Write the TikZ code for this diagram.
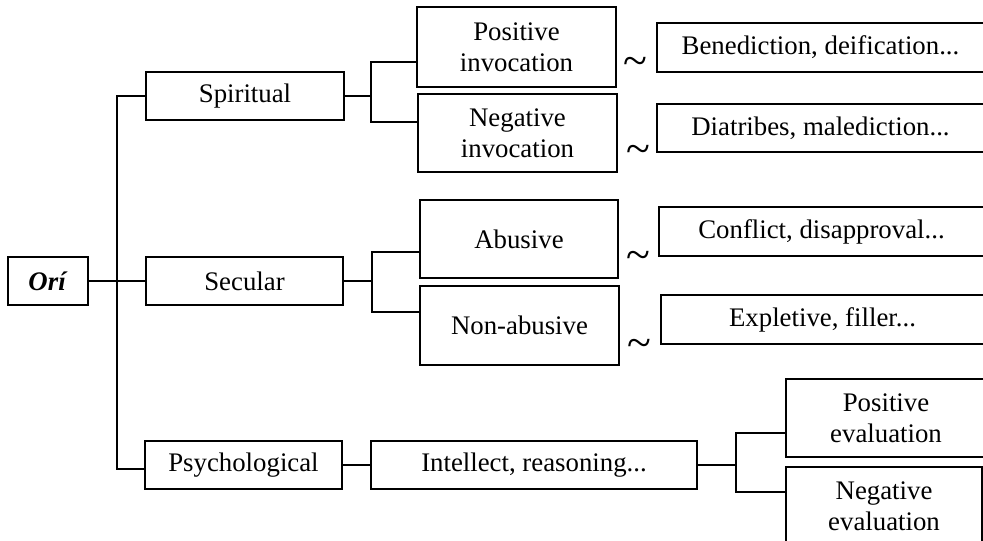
\documentclass[tikz,border=0pt]{standalone}
\usepackage{fontspec}
\setmainfont{Liberation Serif}
\begin{document}
\begin{tikzpicture}[x=0.5pt,y=-0.5pt,
  box/.style={draw, line width=1pt, inner sep=0pt, align=center,
    font=\fontsize{13.4}{15.5}\selectfont},
  conn/.style={line width=1pt},
  tilde/.style={inner sep=0pt, font=\fontsize{22}{22}\selectfont}]
\useasboundingbox (0,0) rectangle (983,540);
\clip (0,0) rectangle (983,540);
% level 0
\node[box, minimum width=40pt, minimum height=24pt] (ori) at (48,281) {\textbf{\textit{Orí}}};
% level 1
\node[box, minimum width=99pt, minimum height=24pt] (spi) at (245,96) {Spiritual};
\node[box, minimum width=98.5pt, minimum height=24pt] (sec) at (244.5,281) {Secular};
\node[box, minimum width=98.5pt, minimum height=24pt] (psy) at (243.5,465) {Psychological};
% level 2
\node[box, minimum width=99.5pt, minimum height=40pt] (pinv) at (516.5,47) {Positive\\invocation};
\node[box, minimum width=99.5pt, minimum height=39pt] (ninv) at (517.5,133) {Negative\\invocation};
\node[box, minimum width=99pt, minimum height=39pt] (abu) at (519,239) {Abusive};
\node[box, minimum width=99.5pt, minimum height=39.5pt] (nab) at (519.5,325.5) {Non-abusive};
\node[box, minimum width=163pt, minimum height=24pt] (int) at (534,465) {Intellect, reasoning...};
% level 3
\node[box, minimum width=163.5pt, minimum height=24.5pt] (ben) at (820.5,47.5) {Benediction, deification...};
\node[box, minimum width=163.5pt, minimum height=24pt] (dia) at (820.5,128) {Diatribes, malediction...};
\node[box, minimum width=162.5pt, minimum height=24.5pt] (con) at (821.5,231.5) {Conflict, disapproval...};
\node[box, minimum width=161.5pt, minimum height=24.5pt] (exp) at (822.5,319.5) {Expletive, filler...};
\node[box, minimum width=100pt, minimum height=39pt] (pev) at (886,418) {Positive\\evaluation};
\node[box, minimum width=98pt, minimum height=39.5pt] (nev) at (884,506.5) {Negative\\evaluation};
% tildes
\node[tilde] (t1) at (635,66) {\textasciitilde};
\node[tilde] (t2) at (638,154) {\textasciitilde};
\node[tilde] (t3) at (638,260) {\textasciitilde};
\node[tilde] (t4) at (639,348) {\textasciitilde};
% junction coordinates
\coordinate (tr) at (117,281);
\coordinate (sj) at (371,96);
\coordinate (cj) at (372,281);
\coordinate (ij) at (736,465);
% connectors
\draw[conn] (ori.east) -- (sec.west);
\draw[conn] (spi.west) -| (tr) |- ([yshift=-2pt]psy.west);
\draw[conn] (spi.east) -- (sj);
\draw[conn] ([yshift=-7.5pt]pinv.west) -| (sj) |- ([yshift=5.5pt]ninv.west);
\draw[conn] (sec.east) -- (cj);
\draw[conn] ([yshift=-6.5pt]abu.west) -| (cj) |- ([yshift=6.75pt]nab.west);
\draw[conn] (psy.east) -- (int.west);
\draw[conn] (int.east) -- (ij);
\draw[conn] ([yshift=-7.5pt]pev.west) -| (ij) |- ([yshift=7.25pt]nev.west);
\end{tikzpicture}
\end{document}
